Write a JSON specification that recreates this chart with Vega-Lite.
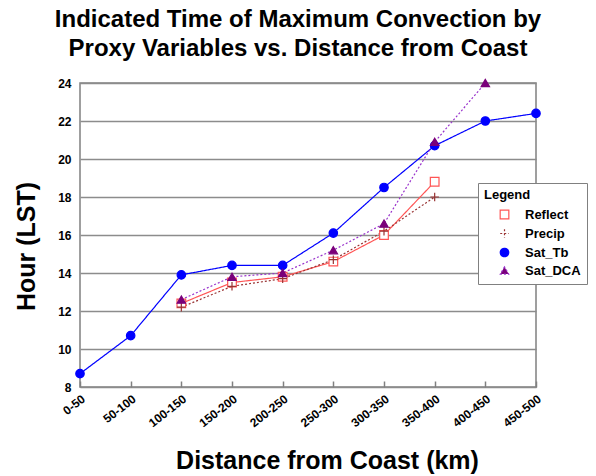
{
  "$schema": "https://vega.github.io/schema/vega-lite/v6.json",
  "width": 456,
  "height": 304,
  "autosize": {"type": "none"},
  "padding": {"left": 80, "top": 83, "right": 60, "bottom": 89},
  "background": "white",
  "title": {
    "text": ["Indicated Time of Maximum Convection by", "Proxy Variables vs. Distance from Coast"],
    "font": "Liberation Sans",
    "fontSize": 24,
    "fontWeight": "bold",
    "color": "#000000",
    "anchor": "middle",
    "dx": -10,
    "offset": 16,
    "lineHeight": 29
  },
  "config": {
    "view": {"stroke": "#808080", "strokeWidth": 1.5},
    "font": "Liberation Sans"
  },
  "data": {
    "values": [
      {"dist": "0-50", "series": "Sat_Tb", "hour": 8.7},
      {"dist": "50-100", "series": "Sat_Tb", "hour": 10.7},
      {"dist": "100-150", "series": "Sat_Tb", "hour": 13.9},
      {"dist": "150-200", "series": "Sat_Tb", "hour": 14.4},
      {"dist": "200-250", "series": "Sat_Tb", "hour": 14.4},
      {"dist": "250-300", "series": "Sat_Tb", "hour": 16.1},
      {"dist": "300-350", "series": "Sat_Tb", "hour": 18.5},
      {"dist": "350-400", "series": "Sat_Tb", "hour": 20.7},
      {"dist": "400-450", "series": "Sat_Tb", "hour": 22.0},
      {"dist": "450-500", "series": "Sat_Tb", "hour": 22.4},
      {"dist": "100-150", "series": "Reflect", "hour": 12.4},
      {"dist": "150-200", "series": "Reflect", "hour": 13.5},
      {"dist": "200-250", "series": "Reflect", "hour": 13.8},
      {"dist": "250-300", "series": "Reflect", "hour": 14.6},
      {"dist": "300-350", "series": "Reflect", "hour": 16.0},
      {"dist": "350-400", "series": "Reflect", "hour": 18.8},
      {"dist": "100-150", "series": "Precip", "hour": 12.2},
      {"dist": "150-200", "series": "Precip", "hour": 13.3},
      {"dist": "200-250", "series": "Precip", "hour": 13.7},
      {"dist": "250-300", "series": "Precip", "hour": 14.7},
      {"dist": "300-350", "series": "Precip", "hour": 16.2},
      {"dist": "350-400", "series": "Precip", "hour": 18.0},
      {"dist": "100-150", "series": "Sat_DCA", "hour": 12.6},
      {"dist": "150-200", "series": "Sat_DCA", "hour": 13.8},
      {"dist": "200-250", "series": "Sat_DCA", "hour": 14.0},
      {"dist": "250-300", "series": "Sat_DCA", "hour": 15.2},
      {"dist": "300-350", "series": "Sat_DCA", "hour": 16.6},
      {"dist": "350-400", "series": "Sat_DCA", "hour": 20.9},
      {"dist": "400-450", "series": "Sat_DCA", "hour": 24.0}
    ]
  },
  "encoding": {
    "x": {
      "field": "dist",
      "type": "ordinal",
      "sort": ["0-50", "50-100", "100-150", "150-200", "200-250", "250-300", "300-350", "350-400", "400-450", "450-500"],
      "scale": {"type": "point", "padding": 0},
      "axis": {
        "title": "Distance from Coast (km)",
        "titleFontSize": 25,
        "titleFontWeight": "bold",
        "titleColor": "#000",
        "titlePadding": 20,
        "titleX": 247,
        "labelAngle": -38,
        "labelFontSize": 12,
        "labelFontWeight": "bold",
        "labelColor": "#000",
        "labelPadding": 12,
        "domain": false,
        "grid": false,
        "tickSize": -6,
        "tickColor": "#808080",
        "tickWidth": 1.5
      }
    },
    "y": {
      "field": "hour",
      "type": "quantitative",
      "scale": {"domain": [8, 24], "nice": false, "zero": false},
      "axis": {
        "title": "Hour (LST)",
        "titleFontSize": 25,
        "titleFontWeight": "bold",
        "titleColor": "#000",
        "titlePadding": 18,
        "titleY": 163,
        "values": [8, 10, 12, 14, 16, 18, 20, 22, 24],
        "labelFontSize": 12,
        "labelFontWeight": "bold",
        "labelColor": "#000",
        "labelPadding": 9,
        "tickSize": 0,
        "domain": false,
        "grid": true,
        "gridColor": "#8c8c8c",
        "gridWidth": 1.5,
        "gridOpacity": 1,
        "gridDash": []
      }
    },
    "color": {
      "field": "series",
      "type": "nominal",
      "scale": {
        "domain": ["Reflect", "Precip", "Sat_Tb", "Sat_DCA"],
        "range": ["#ff5555", "#993333", "#0000ff", "#9933cc"]
      },
      "legend": {
        "title": "Legend",
        "orient": "none",
        "legendX": 398,
        "legendY": 100,
        "strokeColor": "#808080",
        "fillColor": "white",
        "padding": 6,
        "titleFontSize": 13,
        "titleFontWeight": "bold",
        "titleColor": "#000",
        "titlePadding": 6,
        "labelFontSize": 13,
        "labelFontWeight": "bold",
        "labelColor": "#000",
        "labelOffset": 14,
        "symbolSize": 60,
        "rowPadding": 4,
        "symbolOffset": 14
      }
    }
  },
  "layer": [
    {
      "mark": {"type": "line"},
      "encoding": {
        "strokeDash": {
          "field": "series",
          "type": "nominal",
          "scale": {
            "domain": ["Reflect", "Precip", "Sat_Tb", "Sat_DCA"],
            "range": [[1, 0], [2, 2], [1, 0], [2, 2]]
          },
          "legend": null
        },
        "strokeWidth": {
          "field": "series",
          "type": "nominal",
          "scale": {
            "domain": ["Reflect", "Precip", "Sat_Tb", "Sat_DCA"],
            "range": [1.2, 1.2, 2.8, 1.6]
          },
          "legend": null
        }
      }
    },
    {
      "mark": {"type": "point", "filled": true, "opacity": 1},
      "encoding": {
        "shape": {
          "field": "series",
          "type": "nominal",
          "scale": {
            "domain": ["Reflect", "Precip", "Sat_Tb", "Sat_DCA"],
            "range": ["square", "M-1,0L1,0M0,-1L0,1", "circle", "triangle-up"]
          },
          "legend": null
        },
        "fill": {
          "field": "series",
          "type": "nominal",
          "scale": {
            "domain": ["Reflect", "Precip", "Sat_Tb", "Sat_DCA"],
            "range": ["white", "#993333", "#0000ff", "#7a007a"]
          },
          "legend": null
        },
        "stroke": {
          "field": "series",
          "type": "nominal",
          "scale": {
            "domain": ["Reflect", "Precip", "Sat_Tb", "Sat_DCA"],
            "range": ["#ff5555", "#993333", "#0000ff", "#7a007a"]
          },
          "legend": null
        },
        "size": {
          "field": "series",
          "type": "nominal",
          "scale": {
            "domain": ["Reflect", "Precip", "Sat_Tb", "Sat_DCA"],
            "range": [75, 70, 50, 70]
          },
          "legend": null
        },
        "strokeWidth": {"value": 1.2}
      }
    }
  ]
}
